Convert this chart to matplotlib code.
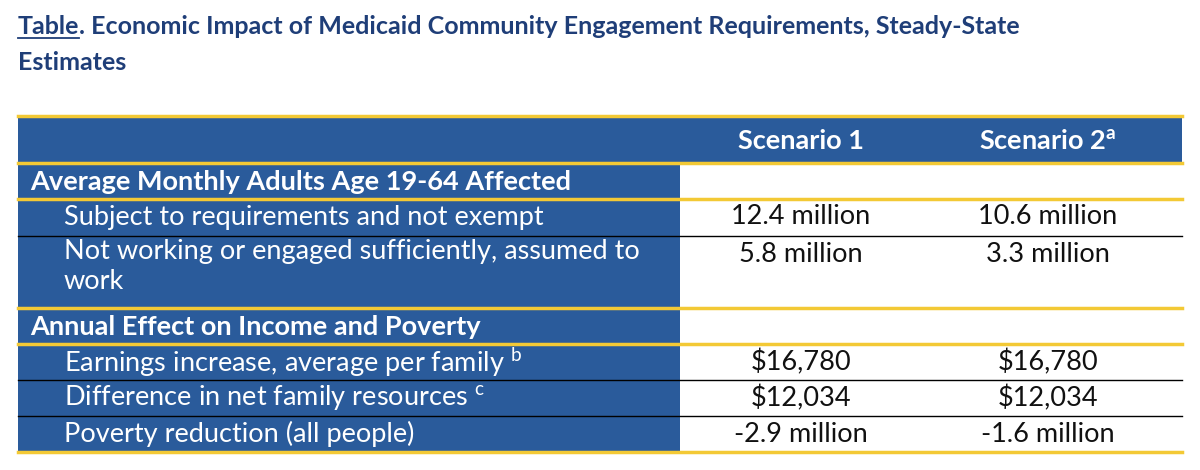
import matplotlib.pyplot as plt
from matplotlib.patches import Rectangle

plt.rcParams['font.family'] = ['Lato', 'DejaVu Sans']

blue = '#2a5b9b'
gold = '#f3c935'
navy = '#1f3e78'

title_1 = 'Economic Impact of Medicaid Community Engagement Requirements, Steady-State'
title_2 = 'Estimates'
col_heads = ['Scenario 1', 'Scenario 2$^{\\mathregular{a}}$']
sections = ['Average Monthly Adults Age 19-64 Affected', 'Annual Effect on Income and Poverty']
rows_1 = ['Subject to requirements and not exempt',
          'Not working or engaged sufficiently, assumed to\nwork']
vals_1 = [['12.4 million', '10.6 million'], ['5.8 million', '3.3 million']]
rows_2 = ['Earnings increase, average per family $^{\\mathregular{b}}$',
          'Difference in net family resources $^{\\mathregular{c}}$',
          'Poverty reduction (all people)']
vals_2 = [['$16,780', '$16,780'], ['$12,034', '$12,034'], ['-2.9 million', '-1.6 million']]

fig = plt.figure(figsize=(12, 4.7), dpi=100)
ax = fig.add_axes([0, 0, 1, 1])
ax.set_xlim(0, 1200)
ax.set_ylim(470, 0)
ax.axis('off')

x0, xs, x1 = 18, 680, 1182
cx = [801, 1048]
fs = 19.5
tfs = 18

# title
t = ax.text(18, 26, 'Table', fontsize=tfs, fontweight='bold', color=navy, va='center')
fig.canvas.draw()
bb = t.get_window_extent().transformed(ax.transData.inverted())
ax.plot([bb.x0, bb.x1], [38, 38], color=navy, lw=1.3)
ax.text(bb.x1, 26, '. ' + title_1, fontsize=tfs, fontweight='bold', color=navy, va='center')
ax.text(18, 62, title_2, fontsize=tfs, fontweight='bold', color=navy, va='center')

# header
ax.add_patch(Rectangle((x0, 116), x1 - x0, 47, color=blue, lw=0))
for c, h in zip(cx, col_heads):
    ax.text(c, 141, h, ha='center', va='center', color='white', fontsize=fs, fontweight='bold')


def block(top, sec, rows, vals, heights):
    ax.add_patch(Rectangle((x0, top), xs - x0, 36 + sum(heights), color=blue, lw=0))
    ax.text(30, top + 19, sec, va='center', color='white', fontsize=fs, fontweight='bold')
    y = top + 36
    ax.plot([x0, x1], [top, top], color=gold, lw=2.5)
    ax.plot([x0, x1], [y, y], color=gold, lw=2.5)
    for i, (r, v) in enumerate(zip(rows, vals)):
        h = heights[i]
        if '\n' in r:
            ax.text(64, y + 3, r, va='top', color='white', fontsize=fs, linespacing=1.25)
        else:
            ax.text(64, y + 18, r, va='center', color='white', fontsize=fs)
        for c, s in zip(cx, v):
            ax.text(c, y + 18, s, ha='center', va='center', color='#111111', fontsize=fs)
        y += h
        if i < len(rows) - 1:
            ax.plot([x0, x1], [y, y], color='black', lw=1)
    return y


block(163, sections[0], rows_1, vals_1, [37, 72])
end = block(308, sections[1], rows_2, vals_2, [36, 36, 36])
ax.plot([x0, x1], [end, end], color=gold, lw=2.5)
ax.plot([x0, x1], [116, 116], color=gold, lw=2.5)

fig.savefig('out.png', dpi=100)
